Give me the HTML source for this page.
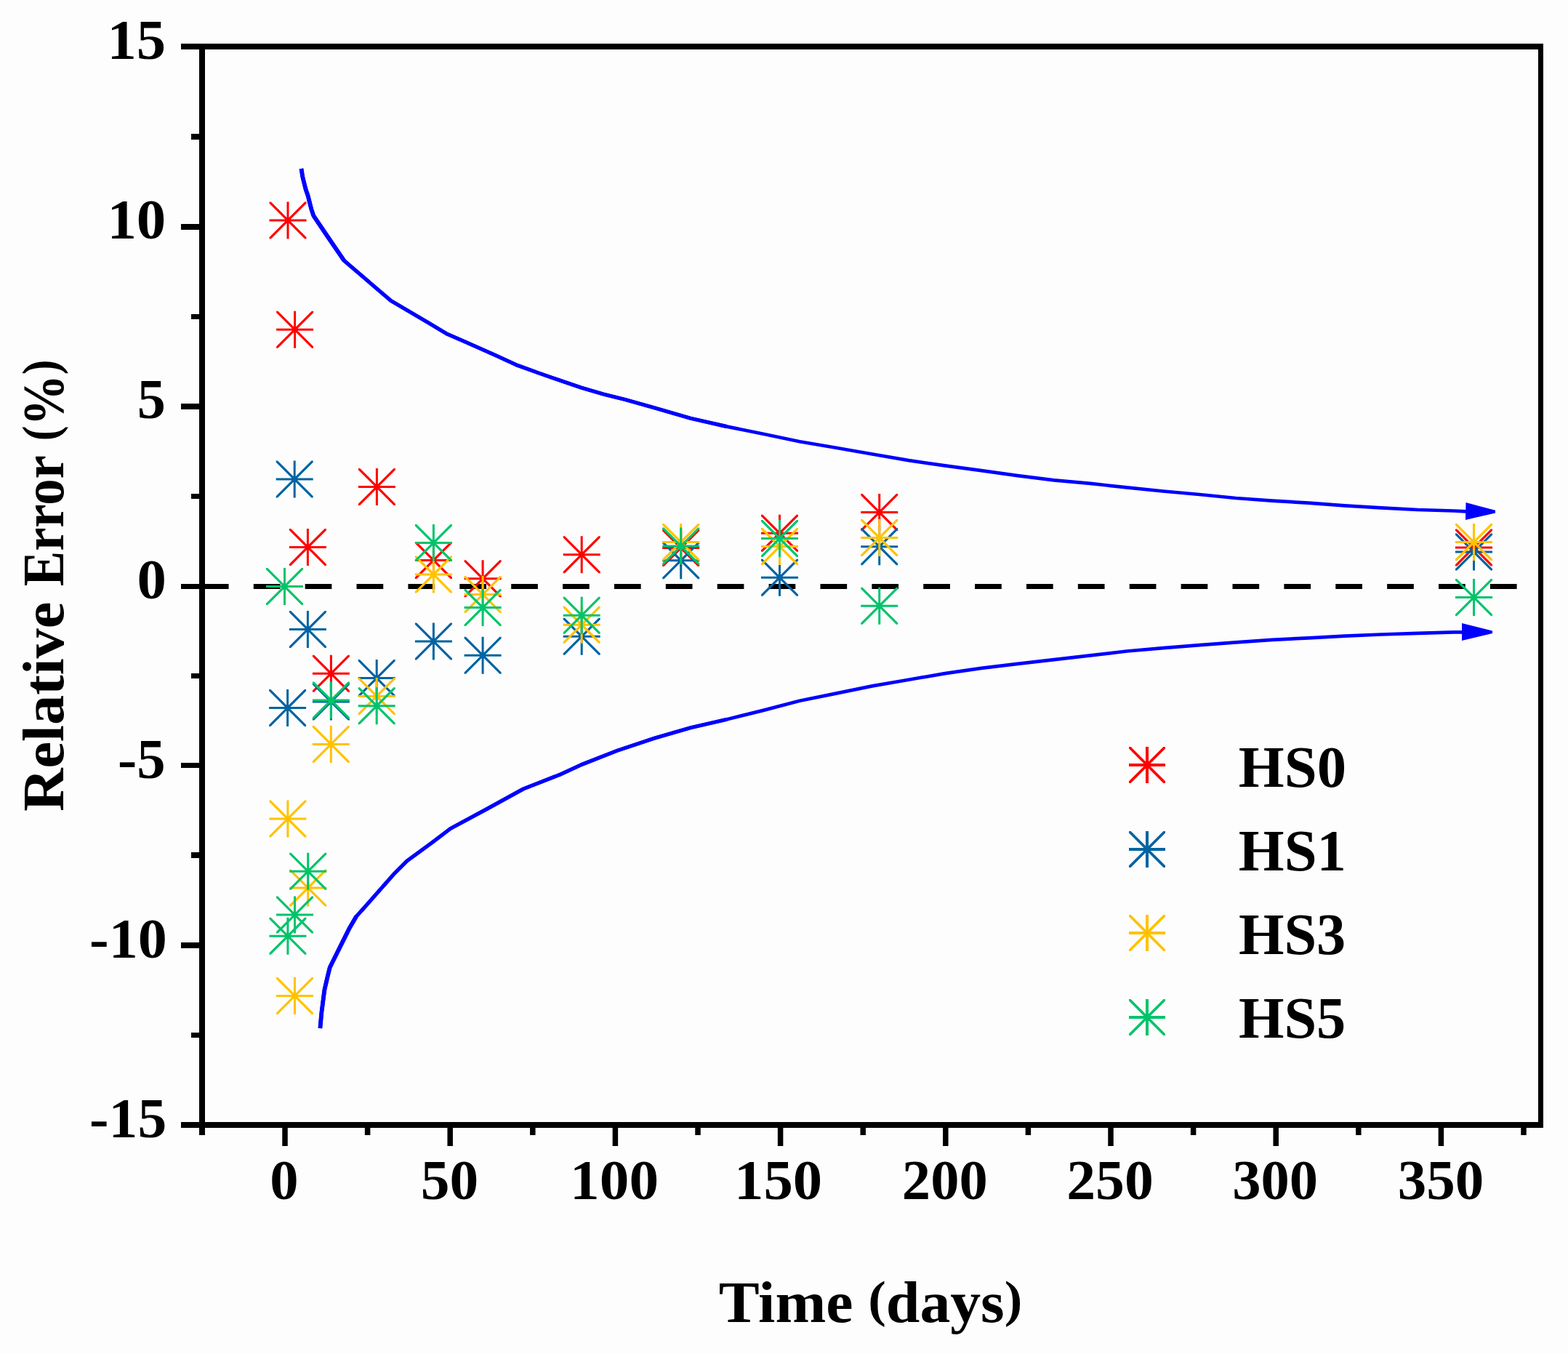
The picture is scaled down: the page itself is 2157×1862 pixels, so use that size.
<!DOCTYPE html><html><head><meta charset="utf-8"><title>Relative Error vs Time</title><style>html,body{margin:0;padding:0;background:#fdfdfd;overflow:hidden;}svg{display:block;}</style></head><body>
<svg width="2157" height="1862" viewBox="0 0 2157 1862">
<rect x="0" y="0" width="2157" height="1862" fill="#fdfdfd"/>
<line x1="277.9" y1="806.45" x2="2086.6" y2="806.45" stroke="#000" stroke-width="6.9" stroke-dasharray="36.7 34.18"/>
<polyline points="414.5,232.0 416.2,242.9 418.4,251.8 420.7,260.8 423.8,269.7 426.0,278.7 428.3,287.6 431.3,296.7 450.8,325.5 473.5,358.6 500.1,381.3 537.7,413.4 590.0,444.2 615.3,459.4 640.0,470.2 680.0,487.8 710.0,501.7 740.0,512.6 770.0,523.0 800.0,533.2 830.0,542.1 860.0,549.5 900.0,560.8 950.0,575.3 1000.0,586.6 1050.0,596.7 1100.0,607.2 1150.0,615.8 1200.0,624.5 1250.0,633.1 1300.0,640.4 1350.0,647.2 1400.0,654.2 1450.0,660.3 1500.0,664.9 1550.0,670.4 1600.0,675.5 1650.0,680.0 1700.0,685.0 1750.0,688.6 1800.0,691.6 1850.0,695.3 1900.0,698.3 1950.0,701.0 2000.0,702.5 2017.0,703.3" fill="none" stroke="#0000ff" stroke-width="4.7" stroke-linejoin="round"/>
<polyline points="414.5,232.0 416.2,242.9 418.4,251.8 420.7,260.8 423.8,269.7 426.0,278.7 428.3,287.6 431.3,296.7 450.8,325.5 473.5,358.6 500.1,381.3 537.7,413.4 590.0,444.2 615.3,459.4 640.0,470.2 680.0,487.8 710.0,501.7 740.0,512.6 770.0,523.0 800.0,533.2 830.0,542.1 860.0,549.5 900.0,560.8 950.0,575.3 1000.0,586.6" fill="none" stroke="#0000ff" stroke-width="5.2" stroke-linejoin="round"/>
<polyline points="414.5,232.0 416.2,242.9 418.4,251.8 420.7,260.8 423.8,269.7 426.0,278.7 428.3,287.6 431.3,296.7 450.8,325.5 473.5,358.6" fill="none" stroke="#0000ff" stroke-width="5.8" stroke-linejoin="round"/>
<polyline points="440.4,1414.0 442.4,1392.0 446.4,1361.1 451.1,1341.0 453.8,1330.3 461.8,1314.2 471.2,1295.4 480.6,1276.6 490.0,1260.5 502.1,1247.1 522.2,1224.3 542.3,1201.5 559.8,1184.0 595.3,1158.0 620.0,1139.2 670.0,1112.4 720.0,1084.9 770.0,1065.3 800.0,1051.5 850.0,1031.9 900.0,1015.3 950.0,1000.8 1000.0,989.2 1050.0,976.9 1100.0,963.8 1150.0,953.6 1200.0,943.4 1250.0,934.7 1300.0,926.1 1350.0,918.8 1400.0,912.8 1450.0,907.1 1500.0,901.3 1550.0,895.5 1600.0,891.1 1650.0,887.2 1700.0,883.3 1750.0,879.8 1800.0,877.3 1850.0,874.6 1900.0,872.5 1950.0,870.8 2000.0,869.4 2012.0,869.3" fill="none" stroke="#0000ff" stroke-width="4.7" stroke-linejoin="round"/>
<polyline points="440.4,1414.0 442.4,1392.0 446.4,1361.1 451.1,1341.0 453.8,1330.3 461.8,1314.2 471.2,1295.4 480.6,1276.6 490.0,1260.5 502.1,1247.1 522.2,1224.3 542.3,1201.5 559.8,1184.0 595.3,1158.0 620.0,1139.2 670.0,1112.4 720.0,1084.9 770.0,1065.3 800.0,1051.5 850.0,1031.9 900.0,1015.3 950.0,1000.8 1000.0,989.2" fill="none" stroke="#0000ff" stroke-width="5.2" stroke-linejoin="round"/>
<polyline points="440.4,1414.0 442.4,1392.0 446.4,1361.1 451.1,1341.0 453.8,1330.3 461.8,1314.2 471.2,1295.4 480.6,1276.6 490.0,1260.5" fill="none" stroke="#0000ff" stroke-width="5.8" stroke-linejoin="round"/>
<path d="M2016.5,691 L2057,701.8 L2057,705.6 L2016,715 Z" fill="#0000ff"/>
<path d="M2011,857 L2053,867.4 L2053,870.9 L2011,881 Z" fill="#0000ff"/>
<g>
<path d="M370.50,301.50H421.50V304.50H370.50ZM394.50,277.50H397.50V328.50H394.50ZM370.50,277.50L372.75,277.50L421.50,326.25L421.50,328.50L419.25,328.50L370.50,279.75ZM421.50,277.50L421.50,279.75L372.75,328.50L370.50,328.50L370.50,326.25L419.25,277.50Z" fill="#ff0000"/>
<path d="M380.10,451.70H431.10V454.70H380.10ZM404.10,427.70H407.10V478.70H404.10ZM380.10,427.70L382.35,427.70L431.10,476.45L431.10,478.70L428.85,478.70L380.10,429.95ZM431.10,427.70L431.10,429.95L382.35,478.70L380.10,478.70L380.10,476.45L428.85,427.70Z" fill="#ff0000"/>
<path d="M397.90,750.90H448.90V753.90H397.90ZM421.90,726.90H424.90V777.90H421.90ZM397.90,726.90L400.15,726.90L448.90,775.65L448.90,777.90L446.65,777.90L397.90,729.15ZM448.90,726.90L448.90,729.15L400.15,777.90L397.90,777.90L397.90,775.65L446.65,726.90Z" fill="#ff0000"/>
<path d="M429.90,924.70H480.90V927.70H429.90ZM453.90,900.70H456.90V951.70H453.90ZM429.90,900.70L432.15,900.70L480.90,949.45L480.90,951.70L478.65,951.70L429.90,902.95ZM480.90,900.70L480.90,902.95L432.15,951.70L429.90,951.70L429.90,949.45L478.65,900.70Z" fill="#ff0000"/>
<path d="M492.90,668.00H543.90V671.00H492.90ZM516.90,644.00H519.90V695.00H516.90ZM492.90,644.00L495.15,644.00L543.90,692.75L543.90,695.00L541.65,695.00L492.90,646.25ZM543.90,644.00L543.90,646.25L495.15,695.00L492.90,695.00L492.90,692.75L541.65,644.00Z" fill="#ff0000"/>
<path d="M570.90,768.90H621.90V771.90H570.90ZM594.90,744.90H597.90V795.90H594.90ZM570.90,744.90L573.15,744.90L621.90,793.65L621.90,795.90L619.65,795.90L570.90,747.15ZM621.90,744.90L621.90,747.15L573.15,795.90L570.90,795.90L570.90,793.65L619.65,744.90Z" fill="#ff0000"/>
<path d="M638.60,794.30H689.60V797.30H638.60ZM662.60,770.30H665.60V821.30H662.60ZM638.60,770.30L640.85,770.30L689.60,819.05L689.60,821.30L687.35,821.30L638.60,772.55ZM689.60,770.30L689.60,772.55L640.85,821.30L638.60,821.30L638.60,819.05L687.35,770.30Z" fill="#ff0000"/>
<path d="M774.70,761.20H825.70V764.20H774.70ZM798.70,737.20H801.70V788.20H798.70ZM774.70,737.20L776.95,737.20L825.70,785.95L825.70,788.20L823.45,788.20L774.70,739.45ZM825.70,737.20L825.70,739.45L776.95,788.20L774.70,788.20L774.70,785.95L823.45,737.20Z" fill="#ff0000"/>
<path d="M911.20,752.00H962.20V755.00H911.20ZM935.20,728.00H938.20V779.00H935.20ZM911.20,728.00L913.45,728.00L962.20,776.75L962.20,779.00L959.95,779.00L911.20,730.25ZM962.20,728.00L962.20,730.25L913.45,779.00L911.20,779.00L911.20,776.75L959.95,728.00Z" fill="#ff0000"/>
<path d="M1047.00,731.70H1098.00V734.70H1047.00ZM1071.00,707.70H1074.00V758.70H1071.00ZM1047.00,707.70L1049.25,707.70L1098.00,756.45L1098.00,758.70L1095.75,758.70L1047.00,709.95ZM1098.00,707.70L1098.00,709.95L1049.25,758.70L1047.00,758.70L1047.00,756.45L1095.75,707.70Z" fill="#ff0000"/>
<path d="M1184.20,703.00H1235.20V706.00H1184.20ZM1208.20,679.00H1211.20V730.00H1208.20ZM1184.20,679.00L1186.45,679.00L1235.20,727.75L1235.20,730.00L1232.95,730.00L1184.20,681.25ZM1235.20,679.00L1235.20,681.25L1186.45,730.00L1184.20,730.00L1184.20,727.75L1232.95,679.00Z" fill="#ff0000"/>
<path d="M2002.00,751.40H2053.00V754.40H2002.00ZM2026.00,727.40H2029.00V778.40H2026.00ZM2002.00,727.40L2004.25,727.40L2053.00,776.15L2053.00,778.40L2050.75,778.40L2002.00,729.65ZM2053.00,727.40L2053.00,729.65L2004.25,778.40L2002.00,778.40L2002.00,776.15L2050.75,727.40Z" fill="#ff0000"/>
<path d="M370.10,971.90H421.10V974.90H370.10ZM394.10,947.90H397.10V998.90H394.10ZM370.10,947.90L372.35,947.90L421.10,996.65L421.10,998.90L418.85,998.90L370.10,950.15ZM421.10,947.90L421.10,950.15L372.35,998.90L370.10,998.90L370.10,996.65L418.85,947.90Z" fill="#0063a2"/>
<path d="M379.70,657.60H430.70V660.60H379.70ZM403.70,633.60H406.70V684.60H403.70ZM379.70,633.60L381.95,633.60L430.70,682.35L430.70,684.60L428.45,684.60L379.70,635.85ZM430.70,633.60L430.70,635.85L381.95,684.60L379.70,684.60L379.70,682.35L428.45,633.60Z" fill="#0063a2"/>
<path d="M397.90,864.00H448.90V867.00H397.90ZM421.90,840.00H424.90V891.00H421.90ZM397.90,840.00L400.15,840.00L448.90,888.75L448.90,891.00L446.65,891.00L397.90,842.25ZM448.90,840.00L448.90,842.25L400.15,891.00L397.90,891.00L397.90,888.75L446.65,840.00Z" fill="#0063a2"/>
<path d="M429.90,963.50H480.90V966.50H429.90ZM453.90,939.50H456.90V990.50H453.90ZM429.90,939.50L432.15,939.50L480.90,988.25L480.90,990.50L478.65,990.50L429.90,941.75ZM480.90,939.50L480.90,941.75L432.15,990.50L429.90,990.50L429.90,988.25L478.65,939.50Z" fill="#0063a2"/>
<path d="M492.70,931.10H543.70V934.10H492.70ZM516.70,907.10H519.70V958.10H516.70ZM492.70,907.10L494.95,907.10L543.70,955.85L543.70,958.10L541.45,958.10L492.70,909.35ZM543.70,907.10L543.70,909.35L494.95,958.10L492.70,958.10L492.70,955.85L541.45,907.10Z" fill="#0063a2"/>
<path d="M570.90,880.40H621.90V883.40H570.90ZM594.90,856.40H597.90V907.40H594.90ZM570.90,856.40L573.15,856.40L621.90,905.15L621.90,907.40L619.65,907.40L570.90,858.65ZM621.90,856.40L621.90,858.65L573.15,907.40L570.90,907.40L570.90,905.15L619.65,856.40Z" fill="#0063a2"/>
<path d="M638.60,899.70H689.60V902.70H638.60ZM662.60,875.70H665.60V926.70H662.60ZM638.60,875.70L640.85,875.70L689.60,924.45L689.60,926.70L687.35,926.70L638.60,877.95ZM689.60,875.70L689.60,877.95L640.85,926.70L638.60,926.70L638.60,924.45L687.35,875.70Z" fill="#0063a2"/>
<path d="M774.70,873.70H825.70V876.70H774.70ZM798.70,849.70H801.70V900.70H798.70ZM774.70,849.70L776.95,849.70L825.70,898.45L825.70,900.70L823.45,900.70L774.70,851.95ZM825.70,849.70L825.70,851.95L776.95,900.70L774.70,900.70L774.70,898.45L823.45,849.70Z" fill="#0063a2"/>
<path d="M911.20,769.20H962.20V772.20H911.20ZM935.20,745.20H938.20V796.20H935.20ZM911.20,745.20L913.45,745.20L962.20,793.95L962.20,796.20L959.95,796.20L911.20,747.45ZM962.20,745.20L962.20,747.45L913.45,796.20L911.20,796.20L911.20,793.95L959.95,745.20Z" fill="#0063a2"/>
<path d="M1047.00,792.70H1098.00V795.70H1047.00ZM1071.00,768.70H1074.00V819.70H1071.00ZM1047.00,768.70L1049.25,768.70L1098.00,817.45L1098.00,819.70L1095.75,819.70L1047.00,770.95ZM1098.00,768.70L1098.00,770.95L1049.25,819.70L1047.00,819.70L1047.00,817.45L1095.75,768.70Z" fill="#0063a2"/>
<path d="M1184.20,750.20H1235.20V753.20H1184.20ZM1208.20,726.20H1211.20V777.20H1208.20ZM1184.20,726.20L1186.45,726.20L1235.20,774.95L1235.20,777.20L1232.95,777.20L1184.20,728.45ZM1235.20,726.20L1235.20,728.45L1186.45,777.20L1184.20,777.20L1184.20,774.95L1232.95,726.20Z" fill="#0063a2"/>
<path d="M2002.00,757.50H2053.00V760.50H2002.00ZM2026.00,733.50H2029.00V784.50H2026.00ZM2002.00,733.50L2004.25,733.50L2053.00,782.25L2053.00,784.50L2050.75,784.50L2002.00,735.75ZM2053.00,733.50L2053.00,735.75L2004.25,784.50L2002.00,784.50L2002.00,782.25L2050.75,733.50Z" fill="#0063a2"/>
<path d="M370.40,1124.60H421.40V1127.60H370.40ZM394.40,1100.60H397.40V1151.60H394.40ZM370.40,1100.60L372.65,1100.60L421.40,1149.35L421.40,1151.60L419.15,1151.60L370.40,1102.85ZM421.40,1100.60L421.40,1102.85L372.65,1151.60L370.40,1151.60L370.40,1149.35L419.15,1100.60Z" fill="#ffc200"/>
<path d="M380.00,1367.90H431.00V1370.90H380.00ZM404.00,1343.90H407.00V1394.90H404.00ZM380.00,1343.90L382.25,1343.90L431.00,1392.65L431.00,1394.90L428.75,1394.90L380.00,1346.15ZM431.00,1343.90L431.00,1346.15L382.25,1394.90L380.00,1394.90L380.00,1392.65L428.75,1343.90Z" fill="#ffc200"/>
<path d="M398.20,1219.40H449.20V1222.40H398.20ZM422.20,1195.40H425.20V1246.40H422.20ZM398.20,1195.40L400.45,1195.40L449.20,1244.15L449.20,1246.40L446.95,1246.40L398.20,1197.65ZM449.20,1195.40L449.20,1197.65L400.45,1246.40L398.20,1246.40L398.20,1244.15L446.95,1195.40Z" fill="#ffc200"/>
<path d="M429.80,1021.90H480.80V1024.90H429.80ZM453.80,997.90H456.80V1048.90H453.80ZM429.80,997.90L432.05,997.90L480.80,1046.65L480.80,1048.90L478.55,1048.90L429.80,1000.15ZM480.80,997.90L480.80,1000.15L432.05,1048.90L429.80,1048.90L429.80,1046.65L478.55,997.90Z" fill="#ffc200"/>
<path d="M492.70,955.90H543.70V958.90H492.70ZM516.70,931.90H519.70V982.90H516.70ZM492.70,931.90L494.95,931.90L543.70,980.65L543.70,982.90L541.45,982.90L492.70,934.15ZM543.70,931.90L543.70,934.15L494.95,982.90L492.70,982.90L492.70,980.65L541.45,931.90Z" fill="#ffc200"/>
<path d="M570.90,788.50H621.90V791.50H570.90ZM594.90,764.50H597.90V815.50H594.90ZM570.90,764.50L573.15,764.50L621.90,813.25L621.90,815.50L619.65,815.50L570.90,766.75ZM621.90,764.50L621.90,766.75L573.15,815.50L570.90,815.50L570.90,813.25L619.65,764.50Z" fill="#ffc200"/>
<path d="M638.60,816.10H689.60V819.10H638.60ZM662.60,792.10H665.60V843.10H662.60ZM638.60,792.10L640.85,792.10L689.60,840.85L689.60,843.10L687.35,843.10L638.60,794.35ZM689.60,792.10L689.60,794.35L640.85,843.10L638.60,843.10L638.60,840.85L687.35,792.10Z" fill="#ffc200"/>
<path d="M774.70,857.70H825.70V860.70H774.70ZM798.70,833.70H801.70V884.70H798.70ZM774.70,833.70L776.95,833.70L825.70,882.45L825.70,884.70L823.45,884.70L774.70,835.95ZM825.70,833.70L825.70,835.95L776.95,884.70L774.70,884.70L774.70,882.45L823.45,833.70Z" fill="#ffc200"/>
<path d="M911.20,744.00H962.20V747.00H911.20ZM935.20,720.00H938.20V771.00H935.20ZM911.20,720.00L913.45,720.00L962.20,768.75L962.20,771.00L959.95,771.00L911.20,722.25ZM962.20,720.00L962.20,722.25L913.45,771.00L911.20,771.00L911.20,768.75L959.95,720.00Z" fill="#ffc200"/>
<path d="M1047.00,750.00H1098.00V753.00H1047.00ZM1071.00,726.00H1074.00V777.00H1071.00ZM1047.00,726.00L1049.25,726.00L1098.00,774.75L1098.00,777.00L1095.75,777.00L1047.00,728.25ZM1098.00,726.00L1098.00,728.25L1049.25,777.00L1047.00,777.00L1047.00,774.75L1095.75,726.00Z" fill="#ffc200"/>
<path d="M1184.20,738.10H1235.20V741.10H1184.20ZM1208.20,714.10H1211.20V765.10H1208.20ZM1184.20,714.10L1186.45,714.10L1235.20,762.85L1235.20,765.10L1232.95,765.10L1184.20,716.35ZM1235.20,714.10L1235.20,716.35L1186.45,765.10L1184.20,765.10L1184.20,762.85L1232.95,714.10Z" fill="#ffc200"/>
<path d="M2002.00,744.10H2053.00V747.10H2002.00ZM2026.00,720.10H2029.00V771.10H2026.00ZM2002.00,720.10L2004.25,720.10L2053.00,768.85L2053.00,771.10L2050.75,771.10L2002.00,722.35ZM2053.00,720.10L2053.00,722.35L2004.25,771.10L2002.00,771.10L2002.00,768.85L2050.75,720.10Z" fill="#ffc200"/>
<path d="M366.00,805.00H417.00V808.00H366.00ZM390.00,781.00H393.00V832.00H390.00ZM366.00,781.00L368.25,781.00L417.00,829.75L417.00,832.00L414.75,832.00L366.00,783.25ZM417.00,781.00L417.00,783.25L368.25,832.00L366.00,832.00L366.00,829.75L414.75,781.00Z" fill="#00c46a"/>
<path d="M370.40,1285.80H421.40V1288.80H370.40ZM394.40,1261.80H397.40V1312.80H394.40ZM370.40,1261.80L372.65,1261.80L421.40,1310.55L421.40,1312.80L419.15,1312.80L370.40,1264.05ZM421.40,1261.80L421.40,1264.05L372.65,1312.80L370.40,1312.80L370.40,1310.55L419.15,1261.80Z" fill="#00c46a"/>
<path d="M380.00,1256.60H431.00V1259.60H380.00ZM404.00,1232.60H407.00V1283.60H404.00ZM380.00,1232.60L382.25,1232.60L431.00,1281.35L431.00,1283.60L428.75,1283.60L380.00,1234.85ZM431.00,1232.60L431.00,1234.85L382.25,1283.60L380.00,1283.60L380.00,1281.35L428.75,1232.60Z" fill="#00c46a"/>
<path d="M398.20,1196.80H449.20V1199.80H398.20ZM422.20,1172.80H425.20V1223.80H422.20ZM398.20,1172.80L400.45,1172.80L449.20,1221.55L449.20,1223.80L446.95,1223.80L398.20,1175.05ZM449.20,1172.80L449.20,1175.05L400.45,1223.80L398.20,1223.80L398.20,1221.55L446.95,1172.80Z" fill="#00c46a"/>
<path d="M429.90,961.40H480.90V964.40H429.90ZM453.90,937.40H456.90V988.40H453.90ZM429.90,937.40L432.15,937.40L480.90,986.15L480.90,988.40L478.65,988.40L429.90,939.65ZM480.90,937.40L480.90,939.65L432.15,988.40L429.90,988.40L429.90,986.15L478.65,937.40Z" fill="#00c46a"/>
<path d="M492.70,969.20H543.70V972.20H492.70ZM516.70,945.20H519.70V996.20H516.70ZM492.70,945.20L494.95,945.20L543.70,993.95L543.70,996.20L541.45,996.20L492.70,947.45ZM543.70,945.20L543.70,947.45L494.95,996.20L492.70,996.20L492.70,993.95L541.45,945.20Z" fill="#00c46a"/>
<path d="M570.90,745.00H621.90V748.00H570.90ZM594.90,721.00H597.90V772.00H594.90ZM570.90,721.00L573.15,721.00L621.90,769.75L621.90,772.00L619.65,772.00L570.90,723.25ZM621.90,721.00L621.90,723.25L573.15,772.00L570.90,772.00L570.90,769.75L619.65,721.00Z" fill="#00c46a"/>
<path d="M638.60,834.10H689.60V837.10H638.60ZM662.60,810.10H665.60V861.10H662.60ZM638.60,810.10L640.85,810.10L689.60,858.85L689.60,861.10L687.35,861.10L638.60,812.35ZM689.60,810.10L689.60,812.35L640.85,861.10L638.60,861.10L638.60,858.85L687.35,810.10Z" fill="#00c46a"/>
<path d="M774.70,844.80H825.70V847.80H774.70ZM798.70,820.80H801.70V871.80H798.70ZM774.70,820.80L776.95,820.80L825.70,869.55L825.70,871.80L823.45,871.80L774.70,823.05ZM825.70,820.80L825.70,823.05L776.95,871.80L774.70,871.80L774.70,869.55L823.45,820.80Z" fill="#00c46a"/>
<path d="M911.20,749.50H962.20V752.50H911.20ZM935.20,725.50H938.20V776.50H935.20ZM911.20,725.50L913.45,725.50L962.20,774.25L962.20,776.50L959.95,776.50L911.20,727.75ZM962.20,725.50L962.20,727.75L913.45,776.50L911.20,776.50L911.20,774.25L959.95,725.50Z" fill="#00c46a"/>
<path d="M1047.00,739.00H1098.00V742.00H1047.00ZM1071.00,715.00H1074.00V766.00H1071.00ZM1047.00,715.00L1049.25,715.00L1098.00,763.75L1098.00,766.00L1095.75,766.00L1047.00,717.25ZM1098.00,715.00L1098.00,717.25L1049.25,766.00L1047.00,766.00L1047.00,763.75L1095.75,715.00Z" fill="#00c46a"/>
<path d="M1184.20,831.80H1235.20V834.80H1184.20ZM1208.20,807.80H1211.20V858.80H1208.20ZM1184.20,807.80L1186.45,807.80L1235.20,856.55L1235.20,858.80L1232.95,858.80L1184.20,810.05ZM1235.20,807.80L1235.20,810.05L1186.45,858.80L1184.20,858.80L1184.20,856.55L1232.95,807.80Z" fill="#00c46a"/>
<path d="M2002.00,820.00H2053.00V823.00H2002.00ZM2026.00,796.00H2029.00V847.00H2026.00ZM2002.00,796.00L2004.25,796.00L2053.00,844.75L2053.00,847.00L2050.75,847.00L2002.00,798.25ZM2053.00,796.00L2053.00,798.25L2004.25,847.00L2002.00,847.00L2002.00,844.75L2050.75,796.00Z" fill="#00c46a"/>
<path d="M1553.00,1049.90H1603.00V1053.90H1553.00ZM1576.00,1026.90H1580.00V1076.90H1576.00ZM1553.00,1026.90L1555.60,1026.90L1603.00,1074.30L1603.00,1076.90L1600.40,1076.90L1553.00,1029.50ZM1603.00,1026.90L1603.00,1029.50L1555.60,1076.90L1553.00,1076.90L1553.00,1074.30L1600.40,1026.90Z" fill="#ff0000"/>
<path d="M1553.00,1165.90H1603.00V1169.90H1553.00ZM1576.00,1142.90H1580.00V1192.90H1576.00ZM1553.00,1142.90L1555.60,1142.90L1603.00,1190.30L1603.00,1192.90L1600.40,1192.90L1553.00,1145.50ZM1603.00,1142.90L1603.00,1145.50L1555.60,1192.90L1553.00,1192.90L1553.00,1190.30L1600.40,1142.90Z" fill="#0063a2"/>
<path d="M1553.00,1281.00H1603.00V1285.00H1553.00ZM1576.00,1258.00H1580.00V1308.00H1576.00ZM1553.00,1258.00L1555.60,1258.00L1603.00,1305.40L1603.00,1308.00L1600.40,1308.00L1553.00,1260.60ZM1603.00,1258.00L1603.00,1260.60L1555.60,1308.00L1553.00,1308.00L1553.00,1305.40L1600.40,1258.00Z" fill="#ffc200"/>
<path d="M1553.00,1397.00H1603.00V1401.00H1553.00ZM1576.00,1374.00H1580.00V1424.00H1576.00ZM1553.00,1374.00L1555.60,1374.00L1603.00,1421.40L1603.00,1424.00L1600.40,1424.00L1553.00,1376.60ZM1603.00,1374.00L1603.00,1376.60L1555.60,1424.00L1553.00,1424.00L1553.00,1421.40L1600.40,1374.00Z" fill="#00c46a"/>
</g>
<g fill="#000">
<rect x="249" y="60" width="1874" height="8"/>
<rect x="249" y="1543" width="1874" height="8"/>
<rect x="274" y="60" width="8" height="1501"/>
<rect x="2116" y="60" width="7" height="1491"/>
<rect x="249" y="308" width="25" height="8"/>
<rect x="249" y="555" width="25" height="8"/>
<rect x="249" y="803" width="25" height="7"/>
<rect x="249" y="1049" width="25" height="7"/>
<rect x="249" y="1296" width="25" height="8"/>
<rect x="263" y="184" width="11" height="8"/>
<rect x="263" y="432" width="11" height="7"/>
<rect x="263" y="679" width="11" height="7"/>
<rect x="263" y="926" width="11" height="7"/>
<rect x="263" y="1172" width="11" height="8"/>
<rect x="263" y="1420" width="11" height="7"/>
<rect x="388.25" y="1551" width="7.5" height="25"/>
<rect x="615.45" y="1551" width="7.5" height="25"/>
<rect x="842.65" y="1551" width="7.5" height="25"/>
<rect x="1069.85" y="1551" width="7.5" height="25"/>
<rect x="1297.05" y="1551" width="7.5" height="25"/>
<rect x="1524.25" y="1551" width="7.5" height="25"/>
<rect x="1751.45" y="1551" width="7.5" height="25"/>
<rect x="1978.65" y="1551" width="7.5" height="25"/>
<rect x="501.85" y="1551" width="7.5" height="10"/>
<rect x="729.05" y="1551" width="7.5" height="10"/>
<rect x="956.25" y="1551" width="7.5" height="10"/>
<rect x="1183.45" y="1551" width="7.5" height="10"/>
<rect x="1410.65" y="1551" width="7.5" height="10"/>
<rect x="1637.85" y="1551" width="7.5" height="10"/>
<rect x="1865.05" y="1551" width="7.5" height="10"/>
<rect x="2092.25" y="1551" width="7.5" height="10"/>
</g>
<g font-family="Liberation Serif, serif" font-weight="bold" font-size="77.5" fill="#000">
<text x="147.46" y="81.0" textLength="80.64" lengthAdjust="spacingAndGlyphs">15</text>
<text x="147.44" y="328.2" textLength="80.87" lengthAdjust="spacingAndGlyphs">10</text>
<text x="188.87" y="575.4" textLength="39.10" lengthAdjust="spacingAndGlyphs">5</text>
<text x="188.47" y="822.5" textLength="40.39" lengthAdjust="spacingAndGlyphs">0</text>
<text x="162.05" y="1069.7" textLength="65.55" lengthAdjust="spacingAndGlyphs">-5</text>
<text x="123.10" y="1316.8" textLength="106.72" lengthAdjust="spacingAndGlyphs">-10</text>
<text x="123.12" y="1564.0" textLength="106.08" lengthAdjust="spacingAndGlyphs">-15</text>
<text x="371.25" y="1649" textLength="39.34" lengthAdjust="spacingAndGlyphs">0</text>
<text x="578.82" y="1649" textLength="79.44" lengthAdjust="spacingAndGlyphs">50</text>
<text x="784.10" y="1649" textLength="122.01" lengthAdjust="spacingAndGlyphs">100</text>
<text x="1010.05" y="1649" textLength="121.14" lengthAdjust="spacingAndGlyphs">150</text>
<text x="1240.86" y="1649" textLength="117.84" lengthAdjust="spacingAndGlyphs">200</text>
<text x="1467.22" y="1649" textLength="119.53" lengthAdjust="spacingAndGlyphs">250</text>
<text x="1695.26" y="1649" textLength="117.84" lengthAdjust="spacingAndGlyphs">300</text>
<text x="1922.74" y="1649" textLength="118.47" lengthAdjust="spacingAndGlyphs">350</text>
</g>
<text x="988.75" y="1818" font-family="Liberation Serif, serif" font-weight="bold" font-size="80" fill="#000" textLength="184.65" lengthAdjust="spacingAndGlyphs">Time</text>
<text x="1194.26" y="1818" font-family="Liberation Serif, serif" font-weight="bold" font-size="80" fill="#000" textLength="212.00" lengthAdjust="spacingAndGlyphs"><tspan font-size="70.5" dy="-7.6">(</tspan><tspan dy="7.6">days</tspan><tspan font-size="70.5" dy="-7.6">)</tspan></text>
<text transform="translate(87,1116.03) rotate(-90)" x="0" y="0" font-family="Liberation Serif, serif" font-weight="bold" font-size="80" fill="#000" textLength="288.38" lengthAdjust="spacingAndGlyphs">Relative</text>
<text transform="translate(87,806.21) rotate(-90)" x="0" y="0" font-family="Liberation Serif, serif" font-weight="bold" font-size="80" fill="#000" textLength="179.81" lengthAdjust="spacingAndGlyphs">Error</text>
<text transform="translate(87,606.24) rotate(-90)" x="0" y="0" font-family="Liberation Serif, serif" font-weight="bold" font-size="80" fill="#000" textLength="111.65" lengthAdjust="spacingAndGlyphs"><tspan font-size="70.5" dy="-7.6">(</tspan><tspan dy="7.6">%</tspan><tspan font-size="70.5" dy="-7.6">)</tspan></text>
<text x="1703.89" y="1081.6" font-family="Liberation Serif, serif" font-weight="bold" font-size="80" fill="#000" textLength="148.16" lengthAdjust="spacingAndGlyphs">HS0</text>
<text x="1703.89" y="1196.8" font-family="Liberation Serif, serif" font-weight="bold" font-size="80" fill="#000" textLength="148.06" lengthAdjust="spacingAndGlyphs">HS1</text>
<text x="1703.90" y="1312.0" font-family="Liberation Serif, serif" font-weight="bold" font-size="80" fill="#000" textLength="147.33" lengthAdjust="spacingAndGlyphs">HS3</text>
<text x="1703.90" y="1427.2" font-family="Liberation Serif, serif" font-weight="bold" font-size="80" fill="#000" textLength="147.33" lengthAdjust="spacingAndGlyphs">HS5</text>
</svg></body></html>
